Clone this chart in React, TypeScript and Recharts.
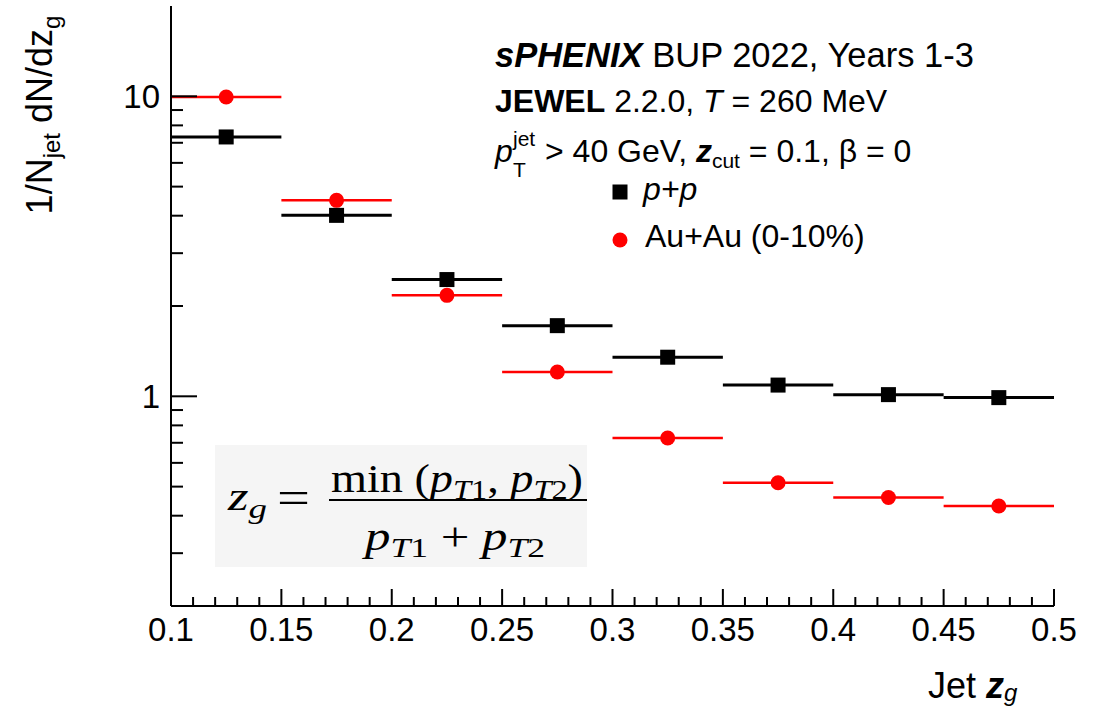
import React from "react";
import { ScatterChart, Scatter, XAxis, YAxis, ErrorBar } from "recharts";

// Groomed jet momentum sharing, sPHENIX JEWEL projection
const binCenters = [0.125, 0.175, 0.225, 0.275, 0.325, 0.375, 0.425, 0.475];
const binHalfWidth = 0.025;
const ppValues = [7.32, 4.01, 2.45, 1.72, 1.35, 1.09, 1.013, 0.99];
const auauValues = [9.95, 4.5, 2.17, 1.205, 0.726, 0.515, 0.46, 0.431];

const xMajorTicks = [0.1, 0.15, 0.2, 0.25, 0.3, 0.35, 0.4, 0.45, 0.5];
const xTickLabels = ["0.1", "0.15", "0.2", "0.25", "0.3", "0.35", "0.4", "0.45", "0.5"];
const xMinorTicks = [
  0.11, 0.12, 0.13, 0.14, 0.16, 0.17, 0.18, 0.19, 0.21, 0.22, 0.23, 0.24, 0.26, 0.27, 0.28, 0.29,
  0.31, 0.32, 0.33, 0.34, 0.36, 0.37, 0.38, 0.39, 0.41, 0.42, 0.43, 0.44, 0.46, 0.47, 0.48, 0.49,
];
const yMajorTicks = [1, 10];
const yTickLabels = ["1", "10"];
const yMinorTicks = [0.3, 0.4, 0.5, 0.6, 0.7, 0.8, 0.9, 2, 3, 4, 5, 6, 7, 8, 9];

const W = 1098;
const H = 709;
// frame of the plotting area
const LEFT = 171;
const RIGHT = 1054;
const TOP = 6;
const BOTTOM = 606;

const FONT = "'Liberation Sans', Arial, Helvetica, sans-serif";
const SERIF = "'Liberation Serif', 'Times New Roman', serif";
const RED = "#ff0000";

const ppData = binCenters.map((x, i) => ({ x, y: ppValues[i], xErr: binHalfWidth }));
const auauData = binCenters.map((x, i) => ({ x, y: auauValues[i], xErr: binHalfWidth }));

const xTicks = [...xMajorTicks, ...xMinorTicks].sort((a, b) => a - b);
const yTicks = [...yMajorTicks, ...yMinorTicks].sort((a, b) => a - b);

const majorIndex = (list: number[], v: number) => list.findIndex((t) => Math.abs(t - v) < 1e-9);

// ROOT style: ticks point into the frame
const XTick = (props: any) => {
  const { x, payload, top } = props;
  const idx = majorIndex(xMajorTicks, payload.value);
  const len = idx >= 0 ? 17 : 9;
  const y0 = top ? TOP : BOTTOM;
  const dir = top ? 1 : -1;
  return (
    <g>
      <line x1={x} x2={x} y1={y0} y2={y0 + dir * len} stroke="#000" strokeWidth={2} />
      {!top && idx >= 0 && (
        <text x={x} y={BOTTOM + 35} textAnchor="middle" fontFamily={FONT} fontSize={33} fill="#000">
          {xTickLabels[idx]}
        </text>
      )}
    </g>
  );
};

const YTick = (props: any) => {
  const { y, payload, right } = props;
  const idx = majorIndex(yMajorTicks, payload.value);
  const len = idx >= 0 ? 26 : 12;
  const x0 = right ? RIGHT : LEFT;
  const dir = right ? -1 : 1;
  return (
    <g>
      <line x1={x0} x2={x0 + dir * len} y1={y} y2={y} stroke="#000" strokeWidth={2} />
      {!right && idx >= 0 && (
        <text x={LEFT - 11} y={y + 12} textAnchor="end" fontFamily={FONT} fontSize={33} fill="#000">
          {yTickLabels[idx]}
        </text>
      )}
    </g>
  );
};

const Square = (props: any) => {
  const { cx, cy } = props;
  return <rect x={cx - 7.5} y={cy - 7.5} width={15} height={15} fill="#000" />;
};

const Dot = (props: any) => {
  const { cx, cy } = props;
  return <circle cx={cx} cy={cy} r={7.5} fill={RED} />;
};

const axisLine = { stroke: "#000", strokeWidth: 2 };

export default function App() {
  return (
    <div style={{ position: "relative", width: W, height: H, background: "#fff" }}>
      <style>{"body{margin:0}"}</style>
      <ScatterChart
        width={W}
        height={H}
        margin={{ top: TOP, right: W - RIGHT, left: 0, bottom: 0 }}
      >
        <XAxis
          dataKey="x"
          type="number"
          domain={[0.1, 0.5]}
          allowDataOverflow
          ticks={xTicks}
          interval={0}
          tickSize={0}
          tickLine={false}
          axisLine={axisLine}
          height={H - BOTTOM}
          tick={<XTick />}
        />
        <XAxis
          xAxisId="top"
          orientation="top"
          type="number"
          domain={[0.1, 0.5]}
          allowDataOverflow
          ticks={xTicks}
          interval={0}
          tickSize={0}
          tickLine={false}
          axisLine={axisLine}
          height={0}
          tick={<XTick top />}
        />
        <YAxis
          dataKey="y"
          type="number"
          scale="log"
          domain={[0.2, 20]}
          allowDataOverflow
          ticks={yTicks}
          interval={0}
          tickSize={0}
          tickLine={false}
          axisLine={axisLine}
          width={LEFT}
          tick={<YTick />}
        />
        <YAxis
          yAxisId="right"
          orientation="right"
          type="number"
          scale="log"
          domain={[0.2, 20]}
          allowDataOverflow
          ticks={yTicks}
          interval={0}
          tickSize={0}
          tickLine={false}
          axisLine={axisLine}
          width={0}
          tick={<YTick right />}
        />
        <Scatter data={auauData} dataKey="y" shape={<Dot />} isAnimationActive={false}>
          <ErrorBar dataKey="xErr" direction="x" width={0} stroke={RED} strokeWidth={2.5} />
        </Scatter>
        <Scatter data={ppData} dataKey="y" shape={<Square />} isAnimationActive={false}>
          <ErrorBar dataKey="xErr" direction="x" width={0} stroke="#000" strokeWidth={3} />
        </Scatter>
      </ScatterChart>

      <svg
        width={W}
        height={H}
        style={{ position: "absolute", left: 0, top: 0, pointerEvents: "none" }}
        fontFamily={FONT}
        fill="#000"
      >
        {/* axis titles */}
        <text transform="translate(52,115) rotate(-90)" textAnchor="middle" fontSize={36}>
          <tspan>1/N</tspan>
          <tspan fontSize={24} dy={8}>jet</tspan>
          <tspan dy={-8}>{"  dN/dz"}</tspan>
          <tspan fontSize={24} dy={8}>g</tspan>
        </text>
        <text x={928} y={698} fontSize={36}>
          <tspan>Jet </tspan>
          <tspan fontWeight="bold" fontStyle="italic">z</tspan>
          <tspan fontSize={24} dy={3} fontStyle="italic">g</tspan>
        </text>

        {/* header */}
        <text x={495} y={67} fontSize={34.5}>
          <tspan fontWeight="bold" fontStyle="italic">sPHENIX</tspan>
          <tspan> BUP 2022, Years 1-3</tspan>
        </text>
        <text x={495} y={112} fontSize={32}>
          <tspan fontWeight="bold">JEWEL</tspan>
          <tspan> 2.2.0, </tspan>
          <tspan fontStyle="italic">T</tspan>
          <tspan>{"  = 260 MeV"}</tspan>
        </text>
        <text x={495} y={162} fontSize={32}>
          <tspan fontStyle="italic">p</tspan>
          <tspan x={513} y={146} fontSize={21}>jet</tspan>
          <tspan x={513} y={177} fontSize={21}>T</tspan>
          <tspan x={545} y={162}>{"> 40 GeV, "}</tspan>
          <tspan fontWeight="bold" fontStyle="italic">z</tspan>
          <tspan fontSize={21} dy={6}>cut</tspan>
          <tspan dy={-6}>{" = 0.1, β = 0"}</tspan>
        </text>

        {/* legend */}
        <rect x={612.5} y={184.5} width={15} height={15} fill="#000" />
        <text x={643} y={200} fontSize={32} fontStyle="italic">p+p</text>
        <circle cx={620} cy={240} r={7.5} fill={RED} />
        <text x={645} y={247} fontSize={32}>Au+Au (0-10%)</text>

        {/* definition of z_g */}
        <rect x={215} y={445} width={372} height={122} fill="#f5f5f5" />
        <g fontFamily={SERIF} fontSize={40}>
          <text x={228} y={510} textLength={39} lengthAdjust="spacingAndGlyphs">
            <tspan fontStyle="italic">z</tspan>
            <tspan fontSize={28} dy={8} fontStyle="italic">g</tspan>
          </text>
          <text x={277} y={513} fontSize={46} textLength={33} lengthAdjust="spacingAndGlyphs">=</text>
          <text x={331} y={492} textLength={252} lengthAdjust="spacingAndGlyphs">
            <tspan>min (</tspan>
            <tspan fontStyle="italic">p</tspan>
            <tspan fontSize={28} dy={7} fontStyle="italic">T</tspan>
            <tspan fontSize={28}>1</tspan>
            <tspan dy={-7}>, </tspan>
            <tspan fontStyle="italic">p</tspan>
            <tspan fontSize={28} dy={7} fontStyle="italic">T</tspan>
            <tspan fontSize={28}>2</tspan>
            <tspan dy={-7}>)</tspan>
          </text>
          <line x1={329} x2={587} y1={500} y2={500} stroke="#000" strokeWidth={2} />
          <text x={365} y={550} textLength={180} lengthAdjust="spacingAndGlyphs">
            <tspan fontStyle="italic">p</tspan>
            <tspan fontSize={28} dy={7} fontStyle="italic">T</tspan>
            <tspan fontSize={28}>1</tspan>
            <tspan dy={-7}>{" + "}</tspan>
            <tspan fontStyle="italic">p</tspan>
            <tspan fontSize={28} dy={7} fontStyle="italic">T</tspan>
            <tspan fontSize={28}>2</tspan>
          </text>
        </g>
      </svg>
    </div>
  );
}
